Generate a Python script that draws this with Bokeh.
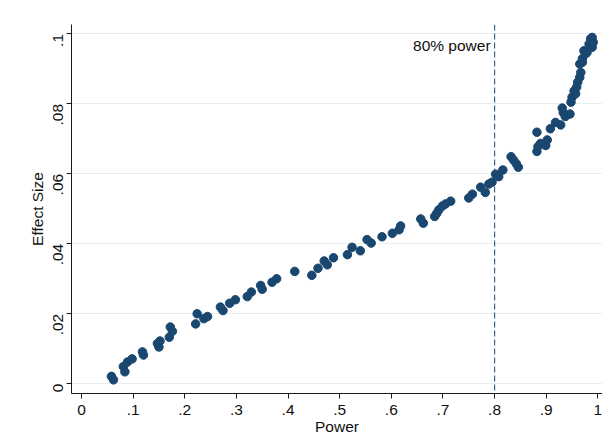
import math

from bokeh.embed import file_html
from bokeh.models import CustomJSTickFormatter, FixedTicker, Label, Range1d, Span
from bokeh.plotting import figure
from bokeh.resources import INLINE

# Statistical power of each design and the minimum detectable effect size
power = [
    0.058, 0.062, 0.081, 0.084, 0.089, 0.098, 0.118, 0.120, 0.147, 0.150,
    0.152, 0.170, 0.172, 0.176, 0.221, 0.224, 0.237, 0.244,
    0.269, 0.274, 0.287, 0.298, 0.321, 0.329, 0.347, 0.350, 0.369, 0.378,
    0.413, 0.446, 0.458, 0.470, 0.476, 0.488, 0.515, 0.524, 0.540, 0.553,
    0.561, 0.582, 0.602, 0.615, 0.618,
    0.657, 0.662, 0.684, 0.688, 0.692, 0.699, 0.705, 0.715, 0.750, 0.757,
    0.773, 0.782, 0.789, 0.795, 0.802, 0.808, 0.816,
    0.832, 0.837, 0.842, 0.846, 0.882, 0.882, 0.884, 0.889, 0.899, 0.902,
    0.908, 0.918, 0.928, 0.931, 0.933, 0.937, 0.946, 0.948, 0.950, 0.954,
    0.957, 0.959, 0.961, 0.965, 0.967, 0.965, 0.970, 0.970, 0.973, 0.976,
    0.979, 0.983, 0.986, 0.989, 0.989, 0.991,
]
effect_size = [
    0.0021, 0.0011, 0.0049, 0.0034, 0.0062, 0.0071, 0.0091, 0.0082, 0.0115, 0.0105,
    0.0122, 0.0133, 0.0162, 0.0150, 0.0171, 0.0200, 0.0186, 0.0192,
    0.0219, 0.0209, 0.0230, 0.0240, 0.0249, 0.0262, 0.0281, 0.0270, 0.0290, 0.0300,
    0.0321, 0.0310, 0.0330, 0.0351, 0.0340, 0.0360, 0.0369, 0.0390, 0.0380, 0.0412,
    0.0402, 0.0420, 0.0430, 0.0440, 0.0451,
    0.0471, 0.0459, 0.0478, 0.0487, 0.0497, 0.0508, 0.0514, 0.0522, 0.0531, 0.0542,
    0.0562, 0.0547, 0.0571, 0.0576, 0.0599, 0.0592, 0.0611,
    0.0649, 0.0639, 0.0629, 0.0619, 0.0719, 0.0664, 0.0678, 0.0687, 0.0681, 0.0697,
    0.0729, 0.0747, 0.0740, 0.0788, 0.0775, 0.0764, 0.0771, 0.0805, 0.0819, 0.0837,
    0.0829, 0.0848, 0.0862, 0.0876, 0.0890, 0.0914, 0.0919, 0.0929, 0.0952, 0.0943,
    0.0947, 0.0971, 0.0986, 0.0990, 0.0962, 0.0976,
]

power_threshold = 0.8
threshold_label = "80% power"
x_ticks = [0, 0.1, 0.2, 0.3, 0.4, 0.5, 0.6, 0.7, 0.8, 0.9, 1.0]
y_ticks = [0, 0.02, 0.04, 0.06, 0.08, 0.1]

FONT = "Liberation Sans"
FONT_SIZE = "15.5px"
NAVY = "#1a476f"

p = figure(
    width=602,
    height=438,
    output_backend="svg",
    toolbar_location=None,
    x_range=Range1d(-0.0194, 1.009),
    y_range=Range1d(-0.0028, 0.1027),
    min_border_left=71,
    min_border_right=0,
    min_border_top=24,
    min_border_bottom=45,
)
p.outline_line_color = None
p.background_fill_color = "white"
p.border_fill_color = "white"

# Stata-style numbers: drop the leading zero (".02", ".1")
fmt = CustomJSTickFormatter(code="""
    const s = (Math.round(tick * 100) / 100).toString();
    return s.replace(/^0\\./, '.');
""")

for ax, ticks in ((p.xaxis[0], x_ticks), (p.yaxis[0], y_ticks)):
    ax.ticker = FixedTicker(ticks=ticks)
    ax.formatter = fmt
    ax.minor_tick_line_color = None
    ax.major_tick_out = 5
    ax.major_tick_in = 0
    ax.axis_line_color = "#1a1a1a"
    ax.major_tick_line_color = "#1a1a1a"
    ax.major_label_text_font = FONT
    ax.major_label_text_font_size = FONT_SIZE
    ax.major_label_text_color = "#111111"
    ax.axis_label_text_font = FONT
    ax.axis_label_text_font_size = FONT_SIZE
    ax.axis_label_text_font_style = "normal"
    ax.axis_label_text_color = "#111111"

p.xaxis.axis_label = "Power"
p.yaxis.axis_label = "Effect Size"
p.yaxis.major_label_orientation = math.pi / 2
p.xaxis.major_label_standoff = 6
p.xaxis.axis_label_standoff = 0
p.yaxis.major_label_standoff = 8
p.yaxis.axis_label_standoff = 0

p.xgrid.visible = False
p.ygrid.ticker = FixedTicker(ticks=y_ticks)
p.ygrid.grid_line_color = "#e6eef0"
p.ygrid.grid_line_width = 1

p.scatter(power, effect_size, size=8.5, fill_color=NAVY, line_color=NAVY)

p.add_layout(Span(location=power_threshold, dimension="height",
                  line_color=NAVY, line_width=1.2, line_dash="6 3", line_alpha=0.85))
p.add_layout(Label(x=power_threshold, y=0.0967, text=threshold_label,
                   text_align="right", text_baseline="middle", x_offset=-4,
                   text_font=FONT, text_font_size=FONT_SIZE, text_color="#111111"))

open("out.html", "w").write(file_html(p, INLINE))
